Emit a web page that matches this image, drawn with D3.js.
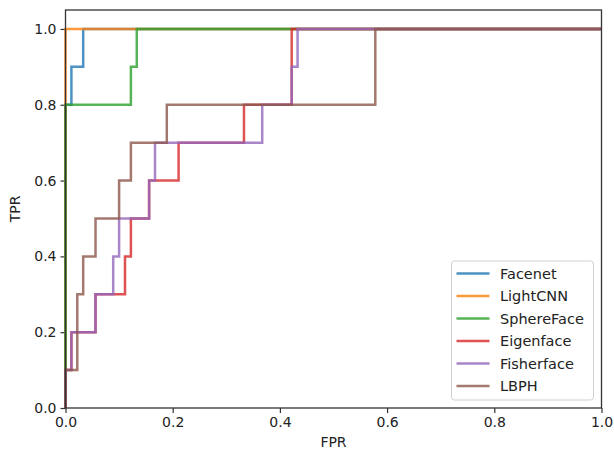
<!DOCTYPE html>
<html>
<head>
<meta charset="utf-8">
<script src="https://cdn.jsdelivr.net/npm/d3@7"></script>
<style>
  body { margin: 0; background: #fff; }
  text { font-family: "DejaVu Sans", sans-serif; fill: #222; }
</style>
</head>
<body>
<div class="chart"></div>
<script>
var svgWidth = 614;
var svgHeight = 453;

var margin = { top: 10, right: 12.5, bottom: 45, left: 65.5 };
var width = svgWidth - margin.left - margin.right;
var height = svgHeight - margin.top - margin.bottom;

// ROC curves (corner points, as roc_curve returns them)
var names = ["Facenet", "LightCNN", "SphereFace", "Eigenface", "Fisherface", "LBPH"];
var colors = ["#1f77b4", "#ff7f0e", "#2ca02c", "#d62728", "#9467bd", "#8c564b"];

var facenetFpr = [0, 0, 0.011, 0.011, 0.033, 0.033, 1];
var facenetTpr = [0, 0.8, 0.8, 0.9, 0.9, 1, 1];

var lightcnnFpr = [0, 0, 1];
var lightcnnTpr = [0, 1, 1];

var spherefaceFpr = [0, 0, 0.122, 0.122, 0.133, 0.133, 1];
var spherefaceTpr = [0, 0.8, 0.8, 0.9, 0.9, 1, 1];

var eigenfaceFpr = [0, 0, 0.011, 0.011, 0.056, 0.056, 0.111, 0.111, 0.122, 0.122, 0.156, 0.156, 0.211, 0.211, 0.333, 0.333, 0.422, 0.422, 1];
var eigenfaceTpr = [0, 0.1, 0.1, 0.2, 0.2, 0.3, 0.3, 0.4, 0.4, 0.5, 0.5, 0.6, 0.6, 0.7, 0.7, 0.8, 0.8, 1, 1];

var fisherfaceFpr = [0, 0, 0.011, 0.011, 0.056, 0.056, 0.089, 0.089, 0.1, 0.1, 0.156, 0.156, 0.167, 0.167, 0.367, 0.367, 0.422, 0.422, 0.433, 0.433, 1];
var fisherfaceTpr = [0, 0.1, 0.1, 0.2, 0.2, 0.3, 0.3, 0.4, 0.4, 0.5, 0.5, 0.6, 0.6, 0.7, 0.7, 0.8, 0.8, 0.9, 0.9, 1, 1];

var lbphFpr = [0, 0, 0.022, 0.022, 0.033, 0.033, 0.056, 0.056, 0.1, 0.1, 0.122, 0.122, 0.189, 0.189, 0.578, 0.578, 1];
var lbphTpr = [0, 0.1, 0.1, 0.3, 0.3, 0.4, 0.4, 0.5, 0.5, 0.6, 0.6, 0.7, 0.7, 0.8, 0.8, 1, 1];

var xTicks = [0, 0.2, 0.4, 0.6, 0.8, 1.0];
var yTicks = [0, 0.2, 0.4, 0.6, 0.8, 1.0];

var fprs = [facenetFpr, lightcnnFpr, spherefaceFpr, eigenfaceFpr, fisherfaceFpr, lbphFpr];
var tprs = [facenetTpr, lightcnnTpr, spherefaceTpr, eigenfaceTpr, fisherfaceTpr, lbphTpr];

var curves = names.map(function (name, i) {
    return {
        name: name,
        color: colors[i],
        points: fprs[i].map(function (f, j) { return [f, tprs[i][j]]; })
    };
});

var svg = d3.select(".chart")
    .append("svg")
    .attr("width", svgWidth)
    .attr("height", svgHeight);

var chartGroup = svg.append("g")
    .attr("transform", `translate(${margin.left}, ${margin.top})`);

var xScale = d3.scaleLinear().domain([0, 1]).range([0, width]);
var yScale = d3.scaleLinear().domain([0, 1.05]).range([height, 0]);

// Axes
var bottomAxis = d3.axisBottom(xScale).tickValues(xTicks).tickFormat(d3.format(".1f")).tickSizeOuter(0).tickSize(5).tickPadding(4);
var leftAxis = d3.axisLeft(yScale).tickValues(yTicks).tickFormat(d3.format(".1f")).tickSizeOuter(0).tickSize(5).tickPadding(4);

var xAxisG = chartGroup.append("g")
    .attr("transform", `translate(0, ${height})`)
    .call(bottomAxis);
var yAxisG = chartGroup.append("g")
    .call(leftAxis);

[xAxisG, yAxisG].forEach(function (g) {
    g.select(".domain").remove();
    g.selectAll("line").attr("stroke", "#333").attr("stroke-width", 1.2);
    g.selectAll("text").style("font-size", "14px").attr("fill", "#222");
});

// Curves
var line = d3.line()
    .x(d => xScale(d[0]))
    .y(d => yScale(d[1]));

chartGroup.append("clipPath").attr("id", "clip")
    .append("rect").attr("x", -2).attr("y", 0).attr("width", width + 4).attr("height", height + 2);

chartGroup.append("g")
    .attr("clip-path", "url(#clip)")
    .selectAll("path")
    .data(curves)
    .enter()
    .append("path")
    .attr("d", d => line(d.points))
    .attr("fill", "none")
    .attr("stroke", d => d.color)
    .attr("stroke-width", 2.5)
    .attr("stroke-opacity", 0.8);

// Frame
chartGroup.append("rect")
    .attr("width", width)
    .attr("height", height)
    .attr("fill", "none")
    .attr("stroke", "#333")
    .attr("stroke-width", 1.3);

// Axis labels
chartGroup.append("text")
    .attr("x", width / 2)
    .attr("y", height + 39)
    .attr("text-anchor", "middle")
    .style("font-size", "14px")
    .text("FPR");

chartGroup.append("text")
    .attr("transform", "rotate(-90)")
    .attr("x", -height / 2)
    .attr("y", -46)
    .attr("text-anchor", "middle")
    .style("font-size", "14px")
    .text("TPR");

// Legend
var legend = chartGroup.append("g")
    .attr("transform", `translate(${451.5 - margin.left}, ${261 - margin.top})`);

legend.append("rect")
    .attr("width", 142)
    .attr("height", 139)
    .attr("rx", 3)
    .attr("fill", "#fff")
    .attr("fill-opacity", 0.85)
    .attr("stroke", "#d0d0d0")
    .attr("stroke-width", 1);

var items = legend.selectAll(".item")
    .data(curves)
    .enter()
    .append("g")
    .attr("class", "item")
    .attr("transform", (d, i) => `translate(0, ${12.5 + i * 22.5})`);

items.append("line")
    .attr("x1", 5)
    .attr("x2", 38)
    .attr("stroke", d => d.color)
    .attr("stroke-width", 2.5)
    .attr("stroke-opacity", 0.8);

items.append("text")
    .attr("x", 48.5)
    .attr("dy", "0.36em")
    .style("font-size", "14.5px")
    .text(d => d.name);
</script>
</body>
</html>
